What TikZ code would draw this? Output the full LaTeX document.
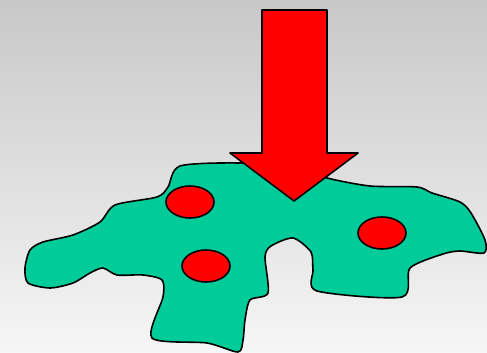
\documentclass[tikz,border=0pt]{standalone}
\usetikzlibrary{shapes.geometric}
\definecolor{landgreen}{HTML}{00CC99}
\definecolor{bggray}{RGB}{200,200,200}
\definecolor{bglight}{RGB}{246,246,246}
\tikzset{
 spot/.style={ellipse,draw=black,fill=red,line width=1.6pt,minimum width=48pt,minimum height=32pt,inner sep=0pt},
 outline/.style={draw=black,line width=1.6pt,line join=round}
}
\begin{document}
\begin{tikzpicture}[x=1pt,y=-1pt]
 \shade[top color=bggray,bottom color=bglight] (0,0) rectangle (487,353);
 \useasboundingbox (0,0) rectangle (487,353);
 % land
 \draw[outline,fill=landgreen] plot[smooth cycle,tension=0.45] coordinates {
  (180,166) (240,163) (300,168) (327,178) (370,186) (417,187) (432,193) (460,202)
  (471,213) (485,240) (484,253) (460,251) (443,254) (410,268) (402,297) (317,291)
  (313,270) (311,252) (293,238) (271,246) (265,257) (268,293) (250,300) (245,320)
  (243,340) (238,352) (207,343) (152,338) (163,297) (162,280) (143,275) (117,275)
  (103,268) (90,273) (73,283) (50,288) (28,283) (25,268) (30,250) (43,242)
  (73,235) (100,222) (115,205) (157,197) (168,187)};
 % spots
 \node[spot] (s1) at (190,202) {};
 \node[spot] (s2) at (206,266) {};
 \node[spot] (s3) at (382,233) {};
 % arrow
 \draw[outline,fill=red] (262,10) -- (327,10) -- (327,153) -- (358,153) -- (294,201)
  -- (230,153) -- (262,153) -- cycle;
\end{tikzpicture}
\end{document}
